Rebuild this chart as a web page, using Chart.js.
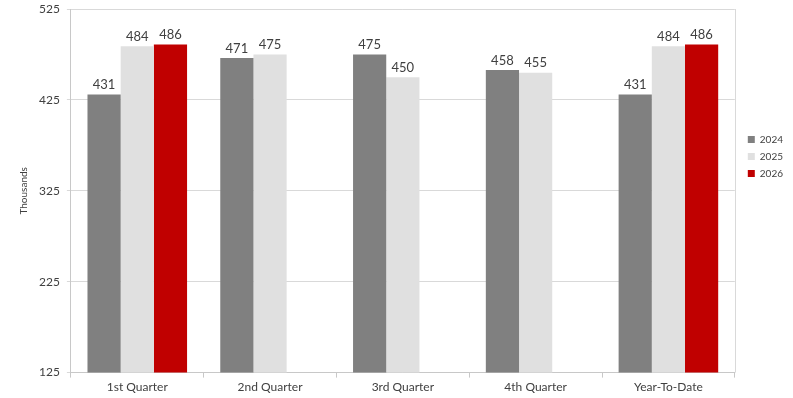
<!DOCTYPE html>
<html>
<head>
<meta charset="utf-8">
<script src="https://cdn.jsdelivr.net/npm/chart.js@4/dist/chart.umd.min.js"></script>
<style>
  html, body { margin: 0; padding: 0; background: #fff; }
  #wrap { width: 793px; height: 398px; }
</style>
</head>
<body>
<div id="wrap"><canvas id="chart" width="793" height="398"></canvas></div>
<script>
const categories = ['1st Quarter', '2nd Quarter', '3rd Quarter', '4th Quarter', 'Year-To-Date']
const years = ['2024', '2025', '2026']
const values2024 = [431, 471, 475, 458, 431]
const values2025 = [484, 475, 450, 455, 484]
const values2026 = [486, null, null, null, 486]
const colors = ['#808080', '#e0e0e0', '#c00000']

const fontFamily = 'Lato, "DejaVu Sans", sans-serif'

// draws value above each bar and the grey frame round the plot area
const labelsAndFrame = {
  id: 'labelsAndFrame',
  afterLayout(chart) {
    // nudge legend toward the right edge, like the original
    chart.legend.left += 6
    chart.legend.right += 6
  },
  afterDatasetsDraw(chart) {
    const ctx = chart.ctx
    const area = chart.chartArea
    ctx.save()
    ctx.strokeStyle = '#d9d9d9'
    ctx.lineWidth = 1
    ctx.beginPath()
    ctx.moveTo(Math.round(area.right) + 0.5, area.top)
    ctx.lineTo(Math.round(area.right) + 0.5, area.bottom)
    ctx.stroke()

    ctx.fillStyle = '#404040'
    ctx.font = '13px ' + fontFamily
    ctx.textAlign = 'center'
    ctx.textBaseline = 'bottom'
    chart.data.datasets.forEach((ds, i) => {
      const meta = chart.getDatasetMeta(i)
      meta.data.forEach((bar, j) => {
        const v = ds.data[j]
        if (v === null || v === undefined) return
        ctx.fillText(String(v), bar.x, bar.y - 3)
      })
    })
    ctx.restore()
  },
}

new Chart(document.getElementById('chart'), {
  type: 'bar',
  data: {
    labels: categories,
    datasets: [
      { label: years[0], data: values2024, backgroundColor: colors[0] },
      { label: years[1], data: values2025, backgroundColor: colors[1] },
      { label: years[2], data: values2026, backgroundColor: colors[2] },
    ],
  },
  options: {
    responsive: false,
    animation: false,
    layout: { padding: { top: 0, right: 6, bottom: 2, left: 18 } },
    datasets: {
      bar: { categoryPercentage: 0.75, barPercentage: 1 },
    },
    plugins: {
      tooltip: { enabled: false },
      legend: {
        position: 'right',
        align: 'start',
        title: { display: true, text: '', padding: { top: 113, bottom: 0 } },
        labels: {
          boxWidth: 7,
          boxHeight: 7,
          padding: 7,
          color: '#404040',
          font: { family: fontFamily, size: 10 },
        },
      },
    },
    scales: {
      x: {
        offset: true,
        grid: {
          offset: true,
          drawOnChartArea: false,
          color: '#c8c8c8',
          tickLength: 5,
        },
        border: { color: '#c8c8c8' },
        ticks: {
          color: '#404040',
          padding: 2,
          font: { family: fontFamily, size: 12 },
        },
      },
      y: {
        min: 125,
        max: 525,
        afterFit(scale) {
          scale.paddingTop = 9
        },
        ticks: {
          stepSize: 100,
          color: '#404040',
          padding: 7,
          font: { family: fontFamily, size: 12 },
        },
        grid: { color: '#d9d9d9', tickLength: 4 },
        border: { color: '#c8c8c8' },
        title: {
          display: true,
          text: 'Thousands',
          color: '#404040',
          padding: { top: 0, bottom: 2 },
          font: { family: fontFamily, size: 10 },
        },
      },
    },
  },
  plugins: [labelsAndFrame],
})
</script>
</body>
</html>
